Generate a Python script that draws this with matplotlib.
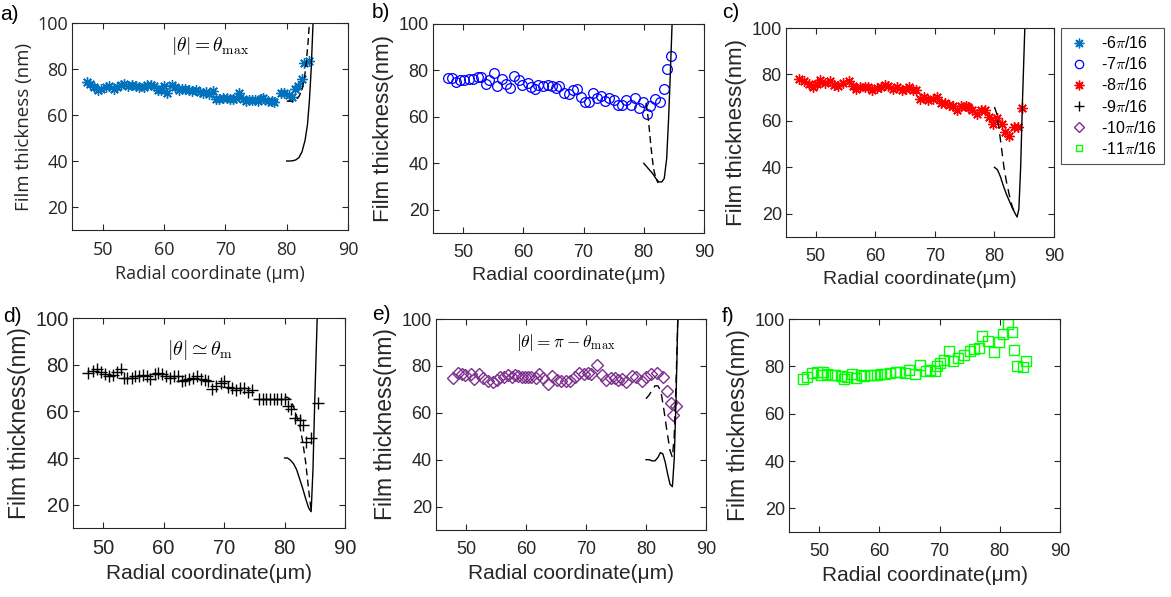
import numpy as np
import matplotlib
matplotlib.use('Agg')
import matplotlib.pyplot as plt
from matplotlib.lines import Line2D

plt.rcParams['font.family'] = ['Liberation Sans', 'DejaVu Sans']
plt.rcParams['mathtext.fontset'] = 'cm'

# ---------- datos ----------
# a) -6pi/16
xa = [47.5, 48.0, 48.6, 49.2, 49.8, 50.5, 51.0, 51.8, 52.3, 53.0, 53.5, 54.2, 54.8, 55.5,
      56.0, 56.8, 57.3, 57.8, 58.3, 59.0, 59.5, 60.0, 60.5, 61.3, 61.8, 62.5, 63.0, 63.5,
      64.0, 64.5, 65.2, 65.8, 66.3, 66.8, 67.3, 68.0, 68.5, 69.0, 69.6, 70.2, 70.7, 71.3,
      71.8, 72.3, 72.8, 73.3, 73.8, 74.3, 74.8, 75.3, 75.8, 76.2, 77.0, 77.6, 78.0, 79.0,
      79.6, 80.3, 80.8, 81.4, 81.9, 82.5, 82.9, 83.7]
ya = [74.5, 73.5, 72.0, 71.0, 71.5, 72.0, 72.5, 71.5, 72.0, 73.0, 73.5, 72.5, 73.0, 72.5,
      72.0, 72.0, 73.0, 73.0, 72.5, 71.0, 71.0, 72.5, 69.5, 73.0, 72.0, 71.0, 71.5, 71.5,
      71.0, 70.5, 71.0, 70.0, 69.5, 70.0, 69.0, 70.5, 67.0, 67.0, 67.5, 67.5, 67.0, 67.0,
      67.5, 69.5, 67.0, 66.0, 66.5, 66.5, 66.5, 66.0, 67.0, 67.5, 66.0, 66.0, 65.5, 69.5,
      69.5, 68.5, 68.0, 71.5, 72.5, 75.5, 82.5, 83.5]
xa_sol = [80.0, 80.5, 81.0, 81.5, 82.0, 82.5, 83.0, 83.4, 83.7, 84.0, 84.3]
ya_sol = [40.0, 40.0, 40.1, 40.5, 41.5, 44.0, 49.0, 56.0, 66.0, 80.0, 100.0]
xa_das = [80.0, 80.5, 81.0, 81.5, 82.0, 82.5, 82.9, 83.2, 83.5, 83.7]
ya_das = [66.0, 66.0, 66.0, 66.5, 68.0, 71.0, 76.0, 83.0, 92.0, 100.0]

# b) -7pi/16
xb = [47.5, 48.2, 48.9, 49.5, 50.2, 50.9, 51.7, 52.4, 53.0, 53.8, 54.3, 55.1, 55.7, 56.5,
      57.1, 57.8, 58.5, 59.2, 59.8, 60.8, 61.2, 61.9, 62.5, 63.3, 64.1, 64.8, 65.4, 66.0,
      66.7, 67.6, 68.2, 68.9, 69.5, 70.2, 70.9, 71.6, 72.3, 72.9, 73.6, 74.3, 75.1, 75.7,
      76.4, 77.0, 77.8, 78.5, 79.2, 79.8, 80.5, 81.1, 81.9, 82.7, 83.3, 83.9, 84.6]
yb = [76.8, 76.8, 75.1, 76.1, 75.7, 76.4, 76.4, 77.0, 77.3, 74.0, 75.7, 79.0, 73.4, 76.4,
      74.3, 72.6, 77.4, 75.7, 73.8, 74.7, 72.9, 71.9, 73.8, 73.5, 73.8, 73.3, 72.4, 73.3,
      70.4, 70.0, 71.4, 71.9, 68.6, 66.5, 66.2, 70.1, 68.2, 69.1, 66.8, 68.2, 67.2, 65.3,
      65.3, 67.2, 65.3, 68.3, 63.9, 66.5, 61.2, 64.8, 67.9, 66.2, 71.9, 80.5, 86.2]
xb_sol = [80.0, 80.5, 81.0, 81.5, 82.0, 82.5, 83.0, 83.4, 83.8, 84.1, 84.4, 84.7]
yb_sol = [40.0, 38.5, 37.0, 35.5, 33.5, 32.0, 32.0, 33.5, 42.0, 58.0, 78.0, 100.0]
xb_das = [80.4, 80.8, 81.2, 81.6, 82.0, 82.4]
yb_das = [66.0, 58.0, 47.0, 38.0, 33.5, 31.5]

# c) -8pi/16
xc = [47.2, 48.0, 48.8, 49.5, 50.2, 50.7, 51.5, 52.4, 53.1, 53.8, 54.6, 55.5, 56.2, 56.8,
      57.4, 58.3, 58.8, 59.5, 60.2, 61.0, 61.6, 62.2, 63.0, 63.7, 64.4, 65.1, 65.6, 66.4,
      66.9, 67.5, 68.2, 68.9, 69.7, 70.3, 71.0, 71.7, 72.4, 73.1, 73.7, 74.4, 75.2, 75.6,
      76.3, 77.0, 77.7, 78.4, 79.1, 79.8, 80.5, 81.2, 81.8, 82.5, 83.2, 83.9, 84.7]
yc = [78.0, 77.3, 76.0, 74.8, 76.0, 77.7, 76.3, 77.0, 75.5, 75.1, 76.3, 77.0, 75.1, 73.7,
      74.6, 74.6, 74.8, 73.1, 74.1, 74.6, 75.5, 75.1, 73.7, 74.6, 73.1, 73.7, 74.6, 73.1,
      73.1, 69.4, 70.2, 69.1, 69.4, 70.1, 67.6, 67.9, 66.9, 66.5, 64.5, 66.2, 66.5, 65.9,
      64.5, 63.0, 64.8, 64.8, 61.6, 58.7, 61.2, 58.7, 55.1, 53.5, 57.3, 57.3, 65.5]
xc_sol = [80.0, 80.5, 81.0, 81.5, 82.0, 82.5, 83.0, 83.5, 83.8, 84.1, 84.4, 84.7, 85.1]
yc_sol = [40.0, 39.0, 36.0, 32.0, 28.5, 25.5, 22.5, 20.0, 18.6, 22.0, 40.0, 68.0, 100.0]
xc_das = [80.0, 80.4, 80.8, 81.2, 81.6, 82.0, 82.5, 83.0, 83.5]
yc_das = [66.0, 63.0, 56.0, 48.0, 40.0, 34.0, 28.0, 23.0, 20.0]

# d) -9pi/16
xd = [47.5, 48.3, 49.0, 49.7, 50.3, 51.0, 51.6, 52.3, 52.9, 53.5, 54.0, 54.7, 55.3, 56.0,
      56.6, 57.2, 57.8, 58.5, 59.1, 59.8, 60.4, 61.0, 61.7, 62.3, 63.0, 63.6, 64.2, 64.8,
      65.5, 66.1, 66.8, 67.4, 68.0, 68.7, 69.5, 70.0, 70.6, 71.3, 72.0, 72.6, 73.3, 74.0,
      74.6, 75.8, 76.4, 77.0, 77.6, 78.2, 78.8, 79.4, 80.0, 80.6, 81.1, 81.8, 82.5, 83.0,
      83.6, 84.3, 85.5]
yd = [76.5, 77.5, 78.0, 77.0, 76.0, 75.0, 75.5, 77.0, 78.0, 74.5, 74.5, 74.5, 75.0, 75.0,
      75.5, 75.0, 74.0, 76.0, 76.5, 76.0, 75.0, 74.5, 75.0, 75.0, 73.0, 73.5, 74.0, 74.5,
      75.0, 74.0, 73.5, 73.0, 69.5, 71.0, 72.0, 73.0, 70.5, 70.0, 69.0, 70.0, 70.0, 68.5,
      69.0, 65.5, 65.5, 65.5, 65.5, 65.5, 65.5, 65.5, 65.5, 62.5, 61.0, 57.0, 56.5, 54.0,
      47.0, 48.5, 63.5]
xd_sol = [80.0, 80.5, 81.0, 81.5, 82.0, 82.5, 83.0, 83.5, 84.0, 84.4, 84.7, 85.0, 85.4]
yd_sol = [40.0, 40.0, 39.0, 37.5, 35.0, 31.0, 27.0, 22.5, 18.5, 17.0, 35.0, 65.0, 100.0]
xd_das = [80.0, 80.5, 81.0, 81.5, 82.0, 82.5, 83.0, 83.5, 84.0, 84.4]
yd_das = [66.0, 66.0, 65.0, 62.0, 58.0, 54.0, 47.0, 38.0, 26.0, 17.5]

# e) -10pi/16
xe = [47.8, 48.6, 49.3, 49.8, 50.8, 51.4, 52.2, 52.9, 53.7, 54.5, 55.1, 55.6, 56.3, 57.0,
      57.6, 58.1, 58.7, 59.3, 59.8, 60.4, 60.9, 61.6, 62.2, 62.9, 63.7, 64.4, 65.1, 65.9,
      66.7, 67.3, 68.1, 68.8, 69.6, 70.3, 70.9, 71.8, 72.6, 73.3, 74.1, 74.8, 75.4, 76.0,
      76.7, 77.7, 78.4, 79.3, 80.0, 80.9, 81.9, 82.8, 83.5, 84.1, 84.5, 85.0]
ye = [75.0, 77.1, 76.6, 76.1, 76.6, 74.3, 76.6, 75.0, 73.6, 73.3, 74.0, 75.4, 75.1, 76.1,
      75.1, 76.1, 75.7, 75.1, 75.1, 75.4, 75.1, 74.7, 76.6, 74.7, 72.3, 75.7, 74.0, 73.6,
      73.7, 73.7, 75.4, 77.1, 76.6, 76.9, 76.6, 80.4, 76.1, 74.0, 74.7, 74.7, 74.0, 74.4,
      73.3, 75.7, 75.1, 73.7, 75.1, 76.6, 77.1, 75.1, 69.4, 64.3, 59.0, 62.9]
xe_sol = [80.0, 80.5, 81.0, 81.5, 82.0, 82.4, 82.8, 83.2, 83.6, 84.0, 84.4, 84.7, 85.0, 85.3]
ye_sol = [40.0, 40.0, 39.5, 39.5, 41.0, 43.0, 42.5, 39.0, 34.0, 29.5, 28.5, 40.0, 65.0, 100.0]
xe_das = [80.0, 80.5, 81.0, 81.5, 82.0, 82.5, 83.0, 83.5, 84.0, 84.4, 84.7, 85.0, 85.3]
ye_das = [66.0, 67.5, 69.5, 71.5, 71.5, 69.0, 61.0, 52.0, 44.0, 41.0, 50.0, 72.0, 100.0]

# f) -11pi/16
xf = [47.3, 47.95, 48.8, 49.7, 50.3, 50.7, 51.3, 52.1, 52.7, 53.6, 54.2, 54.6, 55.4, 56.1,
      56.9, 57.5, 58.5, 59.1, 59.6, 60.2, 60.9, 61.8, 62.7, 63.4, 64.3, 65.0, 65.9, 66.8,
      67.7, 68.4, 69.2, 69.6, 70.1, 70.7, 71.6, 72.2, 73.1, 74.1, 75.1, 75.7, 76.6, 77.0,
      78.1, 79.0, 79.9, 80.6, 81.4, 82.0, 82.4, 82.8, 83.9, 84.3]
yf = [74.8, 75.7, 77.1, 77.8, 76.5, 77.5, 76.9, 76.5, 76.5, 76.1, 74.8, 75.5, 76.9, 75.1,
      76.5, 76.1, 76.5, 76.5, 76.5, 76.9, 76.9, 77.2, 77.6, 77.6, 77.2, 78.6, 76.9, 80.6,
      77.9, 78.6, 78.1, 80.0, 81.4, 82.5, 86.3, 82.1, 83.5, 84.9, 86.3, 87.3, 87.7, 92.7,
      90.6, 86.0, 90.3, 93.8, 97.9, 94.5, 87.0, 80.0, 79.6, 82.1]

legend_labels = ['-6$\\pi$/16', '-7$\\pi$/16', '-8$\\pi$/16', '-9$\\pi$/16',
                 '-10$\\pi$/16', '-11$\\pi$/16']

W, H = 1171, 597
fig = plt.figure(figsize=(W / 100, H / 100), dpi=100)

def caja(l, r, t, b):
    return fig.add_axes([l / W, (H - b) / H, (r - l) / W, (b - t) / H])

def estilo(ax, fam, tsize, ylsize, xlsize, xlab, ylab):
    ax.set_xlim(45, 90)
    ax.set_ylim(10, 100)
    ax.set_xticks([50, 60, 70, 80, 90])
    ax.set_yticks([20, 40, 60, 80, 100])
    ax.tick_params(direction='in', top=True, right=True, length=4, width=0.8,
                   colors='#262626', labelsize=tsize)
    ax.tick_params(axis='x', pad=8)
    ax.tick_params(axis='y', pad=3)
    for lab in ax.get_xticklabels() + ax.get_yticklabels():
        lab.set_family(fam)
    for s in ax.spines.values():
        s.set_color('#262626')
        s.set_linewidth(0.8)
    ax.set_xlabel(xlab, fontsize=xlsize, family=fam, color='#262626', labelpad=4)
    ax.set_ylabel(ylab, fontsize=ylsize, family=fam, color='#262626', labelpad=3)

ast = (8, 2, 0)
azul = '#0072BD'
morado = '#7E2F8E'

# a)
ax = caja(72, 348, 23, 230)
ax.plot(xa, ya, ls='none', marker=ast, ms=7.5, mec=azul, mew=1.0)
ax.plot(xa_sol, ya_sol, 'k-', lw=1.0)
ax.plot(xa_das, ya_das, 'k--', lw=1.0, dashes=(5, 3))
estilo(ax, ['Open Sans', 'DejaVu Sans'], 13, 13.5, 13,
       'Radial coordinate (\u03bcm)', 'Film thickness (nm)')
ax.text(67.5, 90, r'$|\theta| = \theta_{\rm max}$', fontsize=14, ha='center', va='center')

# b)
ax = caja(433, 704, 24, 233)
ax.plot(xb, yb, ls='none', marker='o', ms=7, mfc='none', mec='#0000FF', mew=0.9)
ax.plot(xb_sol, yb_sol, 'k-', lw=1.0)
ax.plot(xb_das, yb_das, 'k--', lw=1.0, dashes=(5, 3))
estilo(ax, ['Liberation Sans'], 13, 16, 14,
       'Radial coordinate(\u03bcm)', 'Film thickness(nm)')

# c)
ax = caja(786, 1054, 28, 237)
ax.plot(xc, yc, ls='none', marker=ast, ms=7.5, mec='#FF0000', mew=1.0)
ax.plot(xc_sol, yc_sol, 'k-', lw=1.0)
ax.plot(xc_das, yc_das, 'k--', lw=1.0, dashes=(6, 4))
estilo(ax, ['Liberation Sans'], 13, 16, 14,
       'Radial coordinate(\u03bcm)', 'Film thickness(nm)')

# d)
ax = caja(73, 345, 318, 528)
ax.plot(xd, yd, ls='none', marker='+', ms=9, mec='k', mew=1.0)
ax.plot(xd_sol, yd_sol, 'k-', lw=1.0)
ax.plot(xd_das, yd_das, 'k--', lw=1.0, dashes=(5, 3))
estilo(ax, ['Liberation Sans'], 14.5, 16.5, 15,
       'Radial coordinate(\u03bcm)', 'Film thickness(nm)')
ax.text(66, 86.5, r'$|\theta| \simeq \theta_{\rm m}$', fontsize=14.5, ha='center', va='center')

# e)
ax = caja(436, 706, 319, 530)
ax.plot(xe, ye, ls='none', marker='D', ms=6.5, mfc='none', mec=morado, mew=1.0)
ax.plot(xe_sol, ye_sol, 'k-', lw=1.0)
ax.plot(xe_das, ye_das, 'k--', lw=1.0, dashes=(6, 4))
estilo(ax, ['Liberation Sans'], 13, 16.5, 15,
       'Radial coordinate(\u03bcm)', 'Film thickness(nm)')
ax.text(66.7, 90, r'$|\theta| = \pi - \theta_{\rm max}$', fontsize=12.5, ha='center', va='center')

# f)
ax = caja(789, 1060, 319, 532)
ax.plot(xf, yf, ls='none', marker='s', ms=6.5, mfc='none', mec='#00FF00', mew=1.0)
estilo(ax, ['Liberation Sans'], 13, 16.5, 15,
       'Radial coordinate(\u03bcm)', 'Film thickness(nm)')

# etiquetas de panel
for txt, px, py in [('a)', 0, 15), ('b)', 372, 12), ('c)', 722, 12),
                    ('d)', 3, 316), ('e)', 372, 315), ('f)', 722, 316)]:
    fig.text(px / W, 1 - py / H, txt, fontsize=15, ha='left', va='center',
             family='Liberation Sans')

# leyenda
handles = [
    Line2D([], [], ls='none', marker=ast, ms=7, mec=azul, mew=1.0),
    Line2D([], [], ls='none', marker='o', ms=6, mfc='none', mec='#0000FF', mew=0.9),
    Line2D([], [], ls='none', marker=ast, ms=7, mec='#FF0000', mew=1.0),
    Line2D([], [], ls='none', marker='+', ms=7, mec='k', mew=1.0),
    Line2D([], [], ls='none', marker='D', ms=5, mfc='none', mec=morado, mew=1.0),
    Line2D([], [], ls='none', marker='s', ms=5, mfc='none', mec='#00FF00', mew=1.0),
]
leg = fig.legend(handles, legend_labels, loc='upper left',
                 bbox_to_anchor=(1061 / W, 1 - 28 / H), frameon=True, fancybox=False,
                 fontsize=11.5, handlelength=1.4, handletextpad=0.65, labelspacing=0.32,
                 borderpad=0.45, borderaxespad=0)
leg.get_frame().set_edgecolor('#262626')
leg.get_frame().set_linewidth(0.8)

fig.savefig('out.png', dpi=100)
